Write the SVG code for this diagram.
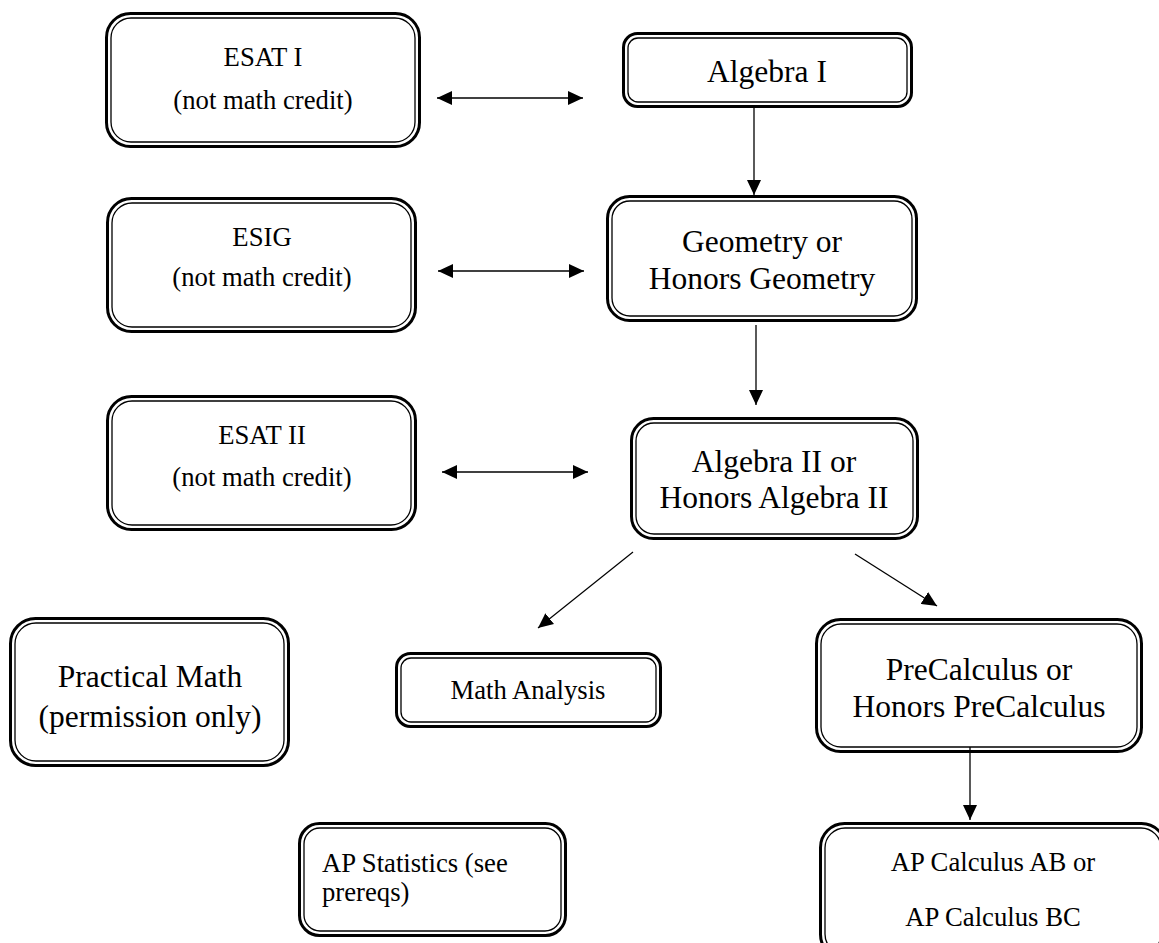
<svg xmlns="http://www.w3.org/2000/svg" width="1159" height="943" viewBox="0 0 1159 943">
<defs>
<style>
.o{fill:none;stroke:#000;stroke-width:3}
.i{fill:#fff;stroke:#000;stroke-width:1.3}
.s{font-family:"Liberation Serif","Times New Roman",serif;font-size:26.7px;fill:#000;text-anchor:middle}
.l{font-family:"Liberation Serif","Times New Roman",serif;font-size:31.5px;fill:#000;text-anchor:middle}
.c{fill:none;stroke:#000;stroke-width:1.3}
</style>
<marker id="ah" viewBox="0 0 15 14" refX="15" refY="7" markerWidth="15" markerHeight="14" markerUnits="userSpaceOnUse" orient="auto-start-reverse"><path d="M0,0 L15,7 L0,14 z" fill="#000"/></marker>
</defs>
<rect width="1159" height="943" fill="#fff"/>
<g id="connectors">
<line class="c" x1="437" y1="98" x2="583" y2="98" marker-start="url(#ah)" marker-end="url(#ah)"/>
<line class="c" x1="754" y1="108" x2="754" y2="195" marker-end="url(#ah)"/>
<line class="c" x1="438" y1="271" x2="584" y2="271" marker-end="url(#ah)" marker-start="url(#ah)"/>
<line class="c" x1="756" y1="325" x2="756" y2="405" marker-end="url(#ah)"/>
<line class="c" x1="442" y1="472" x2="588" y2="472" marker-end="url(#ah)" marker-start="url(#ah)"/>
<line class="c" x1="633" y1="552" x2="538" y2="628" marker-end="url(#ah)"/>
<line class="c" x1="855" y1="554" x2="937" y2="606" marker-end="url(#ah)"/>
<line class="c" x1="970" y1="742" x2="970" y2="820" marker-end="url(#ah)"/>
</g>
<g id="esat1">
<rect class="o" x="106.5" y="13.5" width="313" height="133" rx="24"/>
<rect class="i" x="111" y="18" width="304" height="124" rx="20"/>
<text class="s" x="263" y="66">ESAT I</text>
<text class="s" x="263" y="109">(not math credit)</text>
</g>
<g id="algebra1">
<rect class="o" x="623.5" y="33.5" width="288" height="73" rx="14"/>
<rect class="i" x="628" y="38" width="279" height="64" rx="10"/>
<text class="l" x="767" y="82">Algebra I</text>
</g>
<g id="esig">
<rect class="o" x="107.5" y="198.5" width="308" height="133" rx="24"/>
<rect class="i" x="112" y="203" width="299" height="124" rx="20"/>
<text class="s" x="262" y="246">ESIG</text>
<text class="s" x="262" y="286">(not math credit)</text>
</g>
<g id="geometry">
<rect class="o" x="607.5" y="196.5" width="309" height="124" rx="22"/>
<rect class="i" x="612" y="201" width="300" height="115" rx="18"/>
<text class="l" x="762" y="252">Geometry or</text>
<text class="l" x="762" y="289">Honors Geometry</text>
</g>
<g id="esat2">
<rect class="o" x="107.5" y="396.5" width="308" height="133" rx="24"/>
<rect class="i" x="112" y="401" width="299" height="124" rx="20"/>
<text class="s" x="262" y="444">ESAT II</text>
<text class="s" x="262" y="486">(not math credit)</text>
</g>
<g id="algebra2">
<rect class="o" x="631.5" y="418.5" width="286" height="120" rx="22"/>
<rect class="i" x="636" y="423" width="277" height="111" rx="18"/>
<text class="l" x="774" y="472">Algebra II or</text>
<text class="l" x="774" y="508">Honors Algebra II</text>
</g>
<g id="practical">
<rect class="o" x="10.5" y="618.5" width="278" height="147" rx="25"/>
<rect class="i" x="15" y="623" width="269" height="138" rx="21"/>
<text class="l" x="150" y="687">Practical Math</text>
<text class="l" x="150" y="727">(permission only)</text>
</g>
<g id="mathanalysis">
<rect class="o" x="396.5" y="653.5" width="264" height="73" rx="14"/>
<rect class="i" x="401" y="658" width="255" height="64" rx="10"/>
<text class="s" x="528" y="699">Math Analysis</text>
</g>
<g id="precalc">
<rect class="o" x="816.5" y="619.5" width="325" height="132" rx="24"/>
<rect class="i" x="821" y="624" width="316" height="123" rx="20"/>
<text class="l" x="979" y="680">PreCalculus or</text>
<text class="l" x="979" y="717">Honors PreCalculus</text>
</g>
<g id="apstats">
<rect class="o" x="299.5" y="823.5" width="266" height="112" rx="20"/>
<rect class="i" x="304" y="828" width="257" height="103" rx="16"/>
<text class="s" x="322" y="872" style="text-anchor:start">AP Statistics (see</text>
<text class="s" x="322" y="901" style="text-anchor:start">prereqs)</text>
</g>
<g id="apcalc">
<rect class="o" x="820.5" y="823.5" width="345" height="135" rx="24"/>
<rect class="i" x="825" y="828" width="336" height="126" rx="20"/>
<text class="s" x="993" y="871">AP Calculus AB or</text>
<text class="s" x="993" y="926">AP Calculus BC</text>
</g>
</svg>
